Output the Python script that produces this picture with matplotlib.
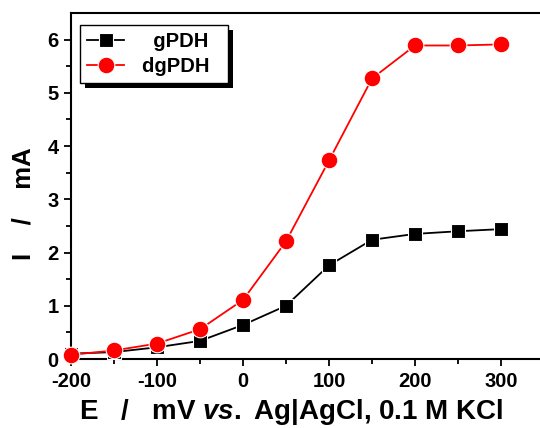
import matplotlib
matplotlib.use("Agg")
import matplotlib.pyplot as plt
from matplotlib.patches import Rectangle

plt.rcParams['font.family'] = 'Liberation Sans'
plt.rcParams['font.weight'] = 'bold'
plt.rcParams['axes.labelweight'] = 'bold'
plt.rcParams['axes.unicode_minus'] = False
plt.rcParams['mathtext.fontset'] = 'custom'
plt.rcParams['mathtext.it'] = 'Liberation Sans:bold:italic'
plt.rcParams['mathtext.rm'] = 'Liberation Sans:bold'

potential = [-200, -150, -100, -50, 0, 50, 100, 150, 200, 250, 300]
gPDH = [0.10, 0.13, 0.22, 0.34, 0.64, 1.00, 1.76, 2.24, 2.35, 2.40, 2.44]
dgPDH = [0.08, 0.16, 0.29, 0.56, 1.11, 2.21, 3.73, 5.27, 5.89, 5.89, 5.91]

fig = plt.figure(figsize=(5.4, 4.28), dpi=100)
ax = fig.add_axes([0.1315, 0.1612, 0.876, 0.8084])

ax.plot(potential, gPDH, color="black", marker="s", markersize=10.5, mec='white', mew=0.8,
        lw=1.3, label="  gPDH  ", clip_on=False, zorder=3)
ax.plot(potential, dgPDH, color="red", marker="o", markersize=12, mec='white', mew=0.8,
        lw=1.3, label="dgPDH  ", clip_on=False, zorder=4)

ax.set_xlim(-200, 350)
ax.set_ylim(0, 6.5)
ax.set_xticks([-200, -100, 0, 100, 200, 300])
ax.set_xticks([-150, -50, 50, 150, 250], minor=True)
ax.set_yticks([0, 1, 2, 3, 4, 5, 6])
ax.set_yticks([0.5, 1.5, 2.5, 3.5, 4.5, 5.5], minor=True)
ax.tick_params(which='major', direction='out', length=5, width=1.3, labelsize=14.5, pad=4)
ax.tick_params(which='minor', direction='out', length=3.5, width=1.3)
for s in ax.spines.values():
    s.set_linewidth(1.5)
ax.spines['right'].set_visible(False)

ax.set_xlabel(r'E   /   mV $\it{vs.}$ Ag|AgCl, 0.1 M KCl', fontsize=20)
ax.xaxis.set_label_coords(0.466, -0.11)
ax.set_ylabel('I    /    mA', fontsize=18.5)
ax.yaxis.set_label_coords(-0.075, 0.45)

leg = ax.legend(loc='upper left', bbox_to_anchor=(0.019, 0.965), borderaxespad=0,
                fontsize=14.5, fancybox=False, edgecolor='black', framealpha=1,
                handlelength=1.85, labelspacing=0.3, handletextpad=0.9, borderpad=0.35)
leg.get_frame().set_linewidth(1.0)
leg.set_zorder(10)

fig.canvas.draw()
bb = leg.get_window_extent()
shadow = Rectangle((bb.x0 + 5, bb.y0 - 5), bb.width, bb.height, transform=None,
                   facecolor='black', edgecolor='none', zorder=9, clip_on=False)
ax.add_artist(shadow)

fig.savefig("out.png", dpi=100)
